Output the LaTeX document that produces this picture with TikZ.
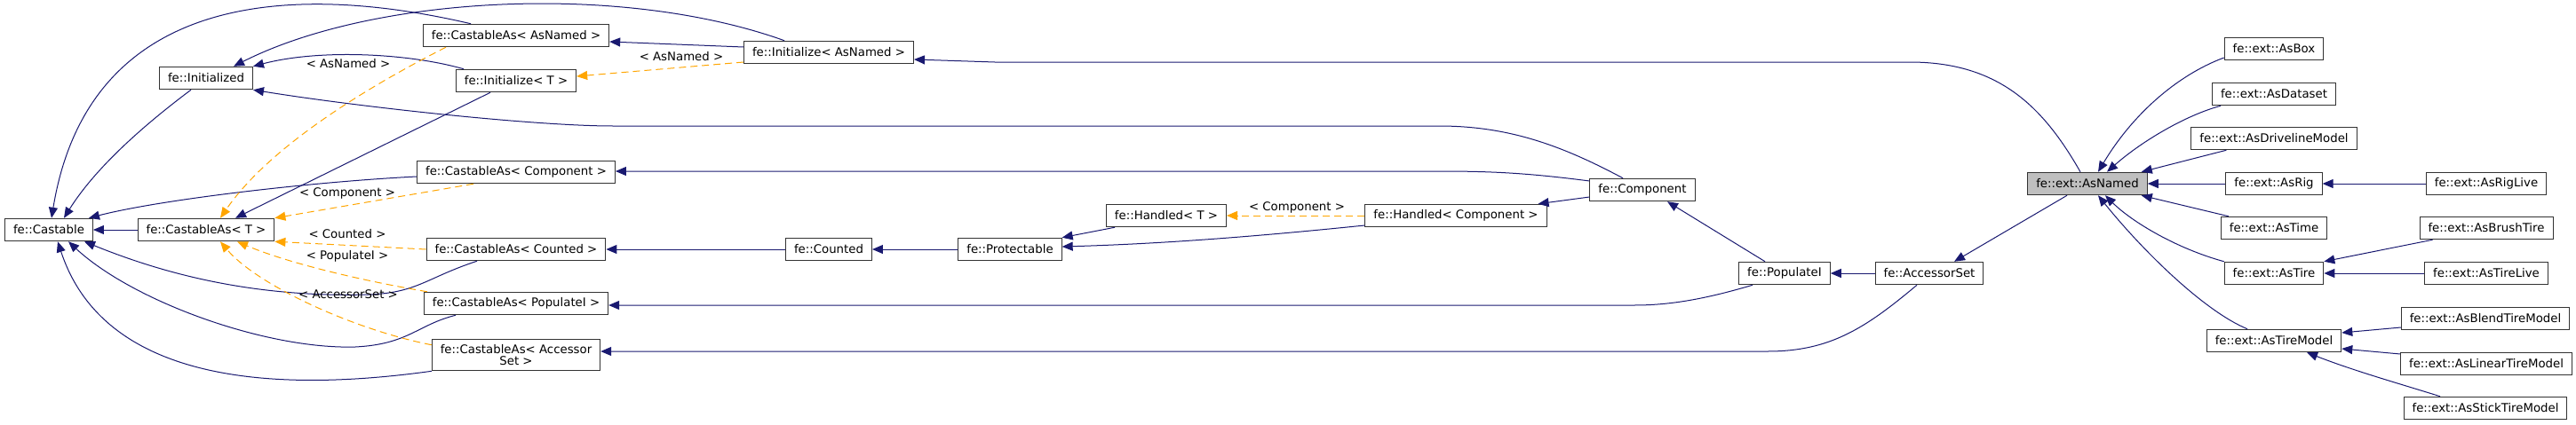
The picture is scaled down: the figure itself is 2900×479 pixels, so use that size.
\documentclass[tikz,border=0pt]{standalone}
\usepackage{fontspec}
\setmainfont{DejaVu Sans}
\usetikzlibrary{arrows.meta}
\definecolor{edgeblue}{HTML}{191970}
\definecolor{tmplorange}{HTML}{FFA500}
\definecolor{focusgray}{HTML}{BFBFBF}
\tikzset{
  cls/.style={draw=black!80, line width=1pt, fill=white, minimum height=25.5pt,
    inner xsep=9.5pt, inner ysep=6pt, align=center, font=\fontsize{13.3}{13.3}\selectfont},
  inh/.style={draw=edgeblue, line width=1pt, -{Triangle[length=12pt,width=10pt]}},
  tmpl/.style={draw=tmplorange, line width=1pt, dash pattern=on 8pt off 5pt,
    -{Triangle[length=12pt,width=10pt]}},
  lbl/.style={font=\fontsize{13.3}{13.3}\selectfont, inner sep=0pt}
}
\begin{document}
\begin{tikzpicture}[x=1pt,y=-1pt]
\useasboundingbox (0,0) rectangle (2900,479);

\node[cls] (castable) at (55,259) {fe::Castable};
\node[cls] (initialized) at (232,88) {fe::Initialized};
\node[cls] (castT) at (232,259) {fe::CastableAs< T >};
\node[cls] (castNamed) at (581,40) {fe::CastableAs< AsNamed >};
\node[cls] (initT) at (581,91) {fe::Initialize< T >};
\node[cls] (castComp) at (581,194) {fe::CastableAs< Component >};
\node[cls] (castCount) at (581,281) {fe::CastableAs< Counted >};
\node[cls] (castPop) at (581,342) {fe::CastableAs< PopulateI >};
\node[cls] (castAcc) at (581,400) {fe::CastableAs< Accessor\\Set >};
\node[cls] (initNamed) at (933,59) {fe::Initialize< AsNamed >};
\node[cls] (counted) at (933,281) {fe::Counted};
\node[cls] (protectable) at (1137,281) {fe::Protectable};
\node[cls] (handledT) at (1313,243) {fe::Handled< T >};
\node[cls] (handledComp) at (1639,243) {fe::Handled< Component >};
\node[cls] (component) at (1849,214) {fe::Component};
\node[cls] (populate) at (2009,308) {fe::PopulateI};
\node[cls] (accessor) at (2172,308) {fe::AccessorSet};
\node[cls, fill=focusgray] (asNamed) at (2350,207) {fe::ext::AsNamed};
\node[cls] (asBox) at (2560,55) {fe::ext::AsBox};
\node[cls] (asDataset) at (2560,106) {fe::ext::AsDataset};
\node[cls] (asDriveline) at (2560,156) {fe::ext::AsDrivelineModel};
\node[cls] (asRig) at (2560,207) {fe::ext::AsRig};
\node[cls] (asRigLive) at (2799,207) {fe::ext::AsRigLive};
\node[cls] (asTime) at (2560,257) {fe::ext::AsTime};
\node[cls] (asBrush) at (2799,257) {fe::ext::AsBrushTire};
\node[cls] (asTire) at (2560,308) {fe::ext::AsTire};
\node[cls] (asTireLive) at (2799,308) {fe::ext::AsTireLive};
\node[cls] (asTireModel) at (2560,384) {fe::ext::AsTireModel};
\node[cls] (asBlend) at (2798,359) {fe::ext::AsBlendTireModel};
\node[cls] (asLinear) at (2799,410) {fe::ext::AsLinearTireModel};
\node[cls] (asStick) at (2798,460) {fe::ext::AsStickTireModel};

\draw[inh] (castT) -- (castable);
\draw[inh] ([xshift=-17]initialized.south) .. controls (170,135) and (110,185) .. ([xshift=17]castable.north);
\draw[inh] ([xshift=-51]castNamed.north) .. controls (330,-20) and (100,-10) .. ([xshift=3]castable.north);
\draw[inh] ([yshift=-5]castComp.west) .. controls (350,205) and (180,225) .. ([xshift=45]castable.north);
\draw[inh] ([xshift=-44]castCount.south) .. controls (480,313) and (470,330) .. (415,332)
  .. controls (300,335) and (200,315) .. ([xshift=40]castable.south);
\draw[inh] ([xshift=-68]castPop.south) .. controls (470,366) and (460,388) .. (400,391)
  .. controls (300,394) and (150,340) .. ([xshift=22]castable.south);
\draw[inh] (castAcc.south west) .. controls (330,440) and (120,440) .. ([xshift=10]castable.south);

\draw[inh] ([xshift=-59]initT.north) .. controls (460,60) and (360,55) .. (initialized.north east);
\draw[inh] ([xshift=-50]initNamed.north) .. controls (700,-20) and (420,-5) .. ([xshift=31]initialized.north);
\draw[inh] ([xshift=-22]component.north) .. controls (1760,165) and (1700,142) .. (1620,142) -- (690,142)
  .. controls (600,142) and (400,120) .. (initialized.south east);
\draw[inh] ([xshift=-29]initT.south) -- ([xshift=33]castT.north);

\draw[tmpl] ([xshift=-79]castNamed.south) .. controls (400,105) and (300,170) .. ([xshift=16]castT.north);
\draw[tmpl] ([xshift=-48]castComp.south) -- (castT.north east);
\draw[tmpl] (castCount.west) -- (castT.south east);
\draw[tmpl] ([xshift=4]castPop.north west) .. controls (400,315) and (320,295) .. ([xshift=35]castT.south);
\draw[tmpl] ([yshift=-7]castAcc.north west) .. controls (400,372) and (290,322) .. ([xshift=16]castT.south);
\node[lbl] (lblNamed) at (392,72) {< AsNamed >};
\node[lbl] (lblComp) at (391,218) {< Component >};
\node[lbl] (lblCount) at (391,264) {< Counted >};
\node[lbl] (lblPop) at (391,289) {< PopulateI >};
\node[lbl] (lblAcc) at (392,332) {< AccessorSet >};

\draw[inh] ([yshift=6]initNamed.west) -- ([yshift=-7]castNamed.east);
\draw[tmpl] ([yshift=-11]initNamed.west) -- ([yshift=5]initT.east);
\node[lbl] (lblInit) at (767,64) {< AsNamed >};
\draw[inh] ([xshift=-8]asNamed.north) .. controls (2300,120) and (2250,70) .. (2150,70) -- (1120,70)
  -- ([yshift=-8]initNamed.east);

\draw[inh] ([yshift=10]component.west) .. controls (1720,195) and (1680,193) .. (1620,193) -- ([yshift=1]castComp.east);
\draw[inh] (counted) -- (castCount);
\draw[inh] (protectable) -- (counted);
\draw[inh] ([xshift=-58]handledT.south) -- (protectable.north east);
\draw[inh] ([yshift=-11]handledComp.west) .. controls (1400,268) and (1300,275) .. ([yshift=3]protectable.east);
\draw[tmpl] (handledComp) -- (handledT);
\node[lbl] (lblHandled) at (1460,234) {< Component >};
\draw[inh] ([yshift=-8]component.west) -- ([xshift=-10]handledComp.north east);
\draw[inh] ([xshift=-22]populate.north) -- ([xshift=28]component.south);
\draw[inh] ([xshift=-36]populate.south) .. controls (1920,337) and (1880,344) .. (1840,344) -- ([yshift=-2]castPop.east);
\draw[inh] (accessor) -- (populate);
\draw[inh] ([xshift=-14]accessor.south) .. controls (2100,370) and (2060,396) .. (1990,396) -- ([yshift=4]castAcc.east);
\draw[inh] ([xshift=-23]asNamed.south) -- ([xshift=28]accessor.north);

\draw[inh] ([yshift=-10]asBox.west) .. controls (2450,85) and (2400,130) .. ([xshift=12]asNamed.north);
\draw[inh] ([xshift=10]asDataset.south west) .. controls (2460,130) and (2410,160) .. ([xshift=22]asNamed.north);
\draw[inh] ([xshift=40]asDriveline.south west) -- ([xshift=-7]asNamed.north east);
\draw[inh] (asRig) -- (asNamed);
\draw[inh] ([xshift=9]asTime.north west) -- ([xshift=-7]asNamed.south east);
\draw[inh] (asTire.north west) .. controls (2450,280) and (2400,250) .. ([xshift=20]asNamed.south);
\draw[inh] ([xshift=-30]asTireModel.north) .. controls (2480,350) and (2410,280) .. ([xshift=12]asNamed.south);
\draw[inh] (asRigLive) -- (asRig);
\draw[inh] ([xshift=15]asBrush.south west) -- (asTire.north east);
\draw[inh] (asTireLive) -- (asTire);
\draw[inh] ([yshift=-10]asBlend.west) -- ([yshift=9]asTireModel.east);
\draw[inh] ([yshift=11]asLinear.west) -- ([yshift=-9]asTireModel.east);
\draw[inh] ([xshift=-51]asStick.north) .. controls (2700,432) and (2650,418) .. ([xshift=37]asTireModel.south);
\end{tikzpicture}
\end{document}
